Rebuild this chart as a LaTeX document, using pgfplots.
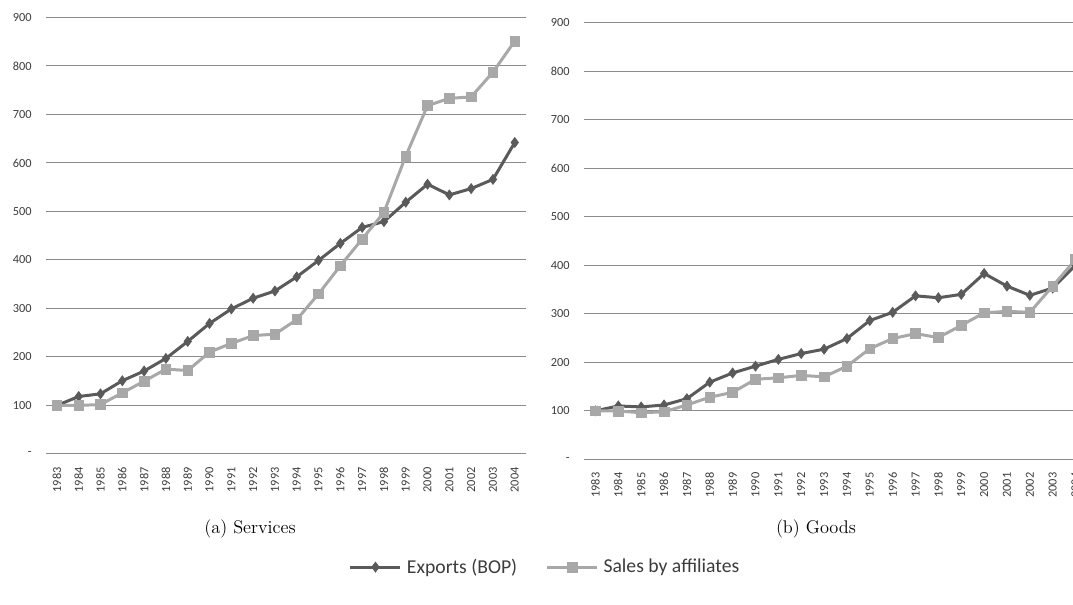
\documentclass[border=0pt]{standalone}
\usepackage{pgfplots}
\pgfplotsset{compat=1.18}
\usepackage{fontspec}
\newfontfamily\carlito{Carlito}
\definecolor{expc}{HTML}{5A5A5A}
\definecolor{salc}{HTML}{A8A8A8}
\definecolor{gridc}{HTML}{8C8C8C}
\definecolor{txtc}{HTML}{3C3C3C}

\pgfplotstableread{
year exp sal
1983 100 100
1984 118.5 100
1985 124 102
1986 151 126
1987 171 150
1988 197 175
1989 232 172
1990 269 210
1991 299 228
1992 321 244
1993 336 247
1994 365 277
1995 399 330
1996 434 388
1997 467 443
1998 479 498
1999 519 614
2000 556 718
2001 534 733
2002 547 736
2003 566 787
2004 642 851
}\services

\pgfplotstableread{
year exp sal
1983 100 100
1984 110 99.5
1985 108 96
1986 112 98
1987 125 112
1988 159 128
1989 178 138
1990 192 165
1991 206 168
1992 218 173
1993 227 170
1994 249 192
1995 286 228
1996 303 249
1997 337 259
1998 333 251
1999 340 276
2000 383 302
2001 357 305
2002 338 303
2003 353 357
2004 400 412
}\goods

\pgfplotsset{
  excelstyle/.style={
    scale only axis,
    height=262pt,
    anchor=south west,
    xmin=1982.5, xmax=2004.5,
    ymin=0, ymax=900,
    axis line style={draw=none},
    major tick length=0pt,
    tick style={draw=none},
    ytick={0,100,...,900},
    yticklabels={-,100,200,300,400,500,600,700,800,900},
    xtick={1983,...,2004},
    xticklabels={1983,1984,1985,1986,1987,1988,1989,1990,1991,1992,1993,1994,1995,1996,1997,1998,1999,2000,2001,2002,2003,2004},
    ymajorgrids,
    grid style={draw=gridc, line width=0.6pt},
    ticklabel style={font=\carlito\fontsize{7.4}{8}\selectfont, text=txtc},
    yticklabel style={inner sep=0pt, anchor=east, xshift=-8.4pt},
    xticklabel style={inner sep=0pt, rotate=90, anchor=east},
    xticklabel shift=7.8pt,
    clip=true,
  },
  expline/.style={color=expc, line width=1.8pt, mark=diamond*, mark size=3pt, mark options={fill=expc, draw=expc, line width=0.4pt}},
  salline/.style={color=salc, line width=1.8pt, mark=square*, mark size=2.9pt, mark options={fill=salc, draw=salc, line width=0.4pt}},
}

\begin{document}
\begin{tikzpicture}
\begin{scope}
\clip (0,0) rectangle (643.8pt,363pt);
\begin{axis}[excelstyle, width=287.8pt, at={(27.6pt,90.6pt)},
  legend columns=2,
  legend style={at={(1.042,-0.259)}, anchor=center, draw=none, fill=none,
    font=\carlito\fontsize{11.8}{13}\selectfont, text=txtc,
    /tikz/every even column/.append style={column sep=15pt},
    /tikz/every odd column/.append style={column sep=1pt}},
  legend cell align=left,
  legend image code/.code={\draw[mark repeat=2, mark phase=2] plot coordinates {(0pt,0pt) (15pt,0pt) (30pt,0pt)};},
]
\addplot[expline] table[x=year, y=exp] {\services};
\addlegendentry{Exports (BOP)}
\addplot[salline] table[x=year, y=sal] {\services};
\addlegendentry{Sales by affiliates}
\end{axis}
\begin{axis}[excelstyle, width=301.8pt, at={(350.4pt,87.4pt)}]
\addplot[expline] table[x=year, y=exp] {\goods};
\addplot[salline] table[x=year, y=sal] {\goods};
\end{axis}
\node[font=\fontsize{11}{13}\selectfont, inner sep=0pt] at (150pt,45.6pt) {(a) Services};
\node[font=\fontsize{11}{13}\selectfont, inner sep=0pt] at (489.6pt,45.6pt) {(b) Goods};
\end{scope}
\pgfresetboundingbox
\path[use as bounding box] (0,0) rectangle (643.8pt,363pt);
\end{tikzpicture}
\end{document}
